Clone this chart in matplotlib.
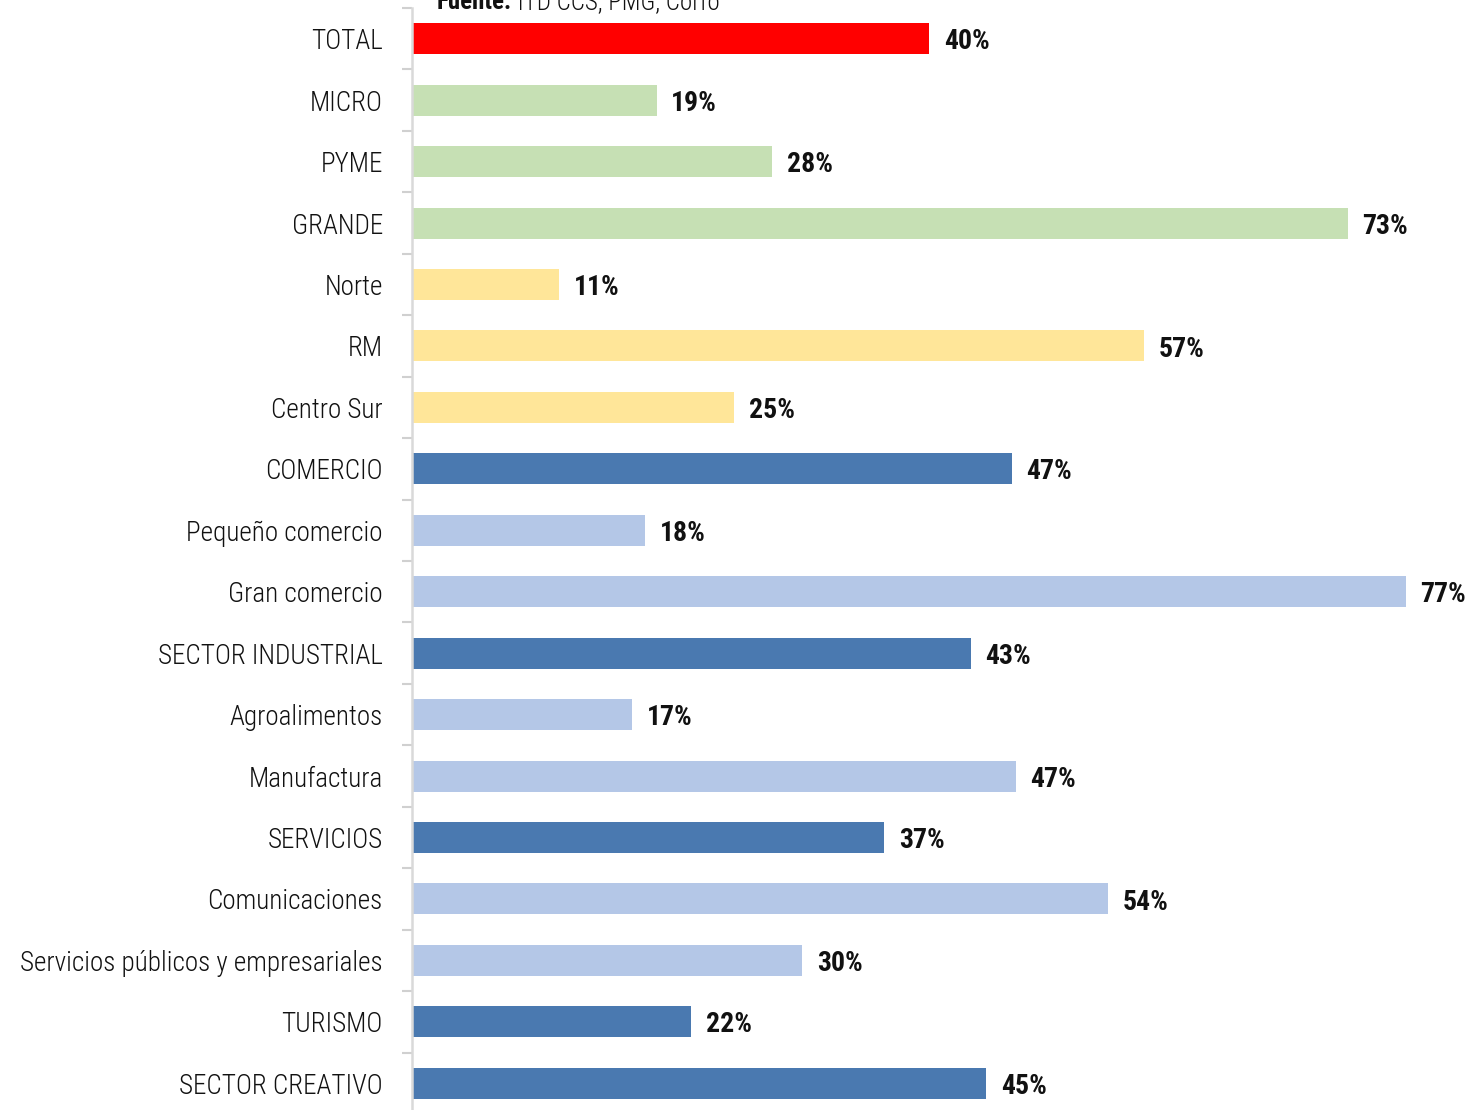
import matplotlib
matplotlib.use("Agg")
import matplotlib.pyplot as plt
from matplotlib import font_manager

categories = ["TOTAL", "MICRO", "PYME", "GRANDE", "Norte", "RM", "Centro Sur",
              "COMERCIO", "Pequeño comercio", "Gran comercio", "SECTOR INDUSTRIAL",
              "Agroalimentos", "Manufactura", "SERVICIOS", "Comunicaciones",
              "Servicios públicos y empresariales", "TURISMO", "SECTOR CREATIVO"]
values = [40.2, 19.0, 28.0, 72.7, 11.4, 56.9, 25.0,
          46.6, 18.1, 77.2, 43.4, 17.1, 46.9, 36.7, 54.1, 30.3, 21.7, 44.6]
groups = ["total", "size", "size", "size", "region", "region", "region",
          "sector", "sub", "sub", "sector", "sub", "sub", "sector", "sub", "sub",
          "sector", "sector"]
source_bold = "Fuente:"
source_text = " ITD CCS, PMG, Corfo"

palette = {"total": "#FF0000", "size": "#C6E0B4", "region": "#FFE699",
           "sector": "#4A79B0", "sub": "#B4C7E7"}

available = {f.name for f in font_manager.fontManager.ttflist}
fam = []
for cand in ["Roboto Condensed", "Liberation Sans Narrow", "Open Sans Condensed", "Roboto", "DejaVu Sans"]:
    if cand in available:
        fam.append(cand)
plt.rcParams['font.family'] = fam
plt.rcParams['font.stretch'] = 'condensed'

W, H = 1473, 1110
fig = plt.figure(figsize=(W / 100, H / 100), dpi=100)
ax_left = 412 / W
ax_top = 1 - 8 / H
ax_bottom = 1 - 1114 / H
ax = fig.add_axes([ax_left, ax_bottom, 1 - ax_left, ax_top - ax_bottom])

ypos = list(range(len(categories)))
colors = [palette[g] for g in groups]
ax.barh(ypos, values, height=0.505, color=colors, zorder=2)
ax.set_ylim(len(categories) - 0.5, -0.5)
ax.set_xlim(0, (W - 412) / 12.87)

for y, v in zip(ypos, values):
    ax.text(v + 1.15, y + 0.05, f"{v:.0f}%", va="center", ha="left", fontsize=20,
            fontweight="bold", color="#111111")

ax.set_yticks(ypos)
ax.set_yticklabels(categories, fontsize=19.5, color="#111111", fontweight="light")
ax.tick_params(axis="y", which="major", length=0, pad=21)
ax.set_yticks([i - 0.5 for i in range(len(categories) + 1)], minor=True)
ax.tick_params(axis="y", which="minor", length=7, width=1.5, color="#D0D0D0")
ax.set_xticks([])
for s in ["top", "right", "bottom"]:
    ax.spines[s].set_visible(False)
ax.spines["left"].set_color("#D9D9D9")
ax.spines["left"].set_linewidth(1.8)

ybase = 1 - 9 / H
fig.text(437 / W, ybase, source_bold, fontsize=18, fontweight="bold",
         va="baseline", ha="left", color="#111111")
t = fig.text(437 / W, ybase, "", fontsize=18, va="baseline", ha="left",
             fontweight="light")
fig.canvas.draw()
bb = fig.texts[0].get_window_extent()
t.set_position((bb.x1 / W, ybase))
t.set_text(source_text)
t.set_color("#111111")

fig.savefig("out.png", dpi=100)
